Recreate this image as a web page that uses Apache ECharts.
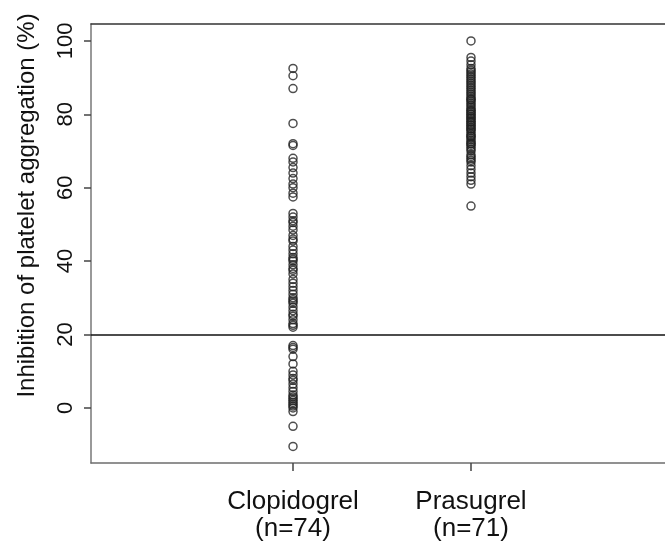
<!DOCTYPE html>
<html>
<head>
<meta charset="utf-8">
<script src="https://cdn.jsdelivr.net/npm/echarts@6/dist/echarts.min.js"></script>
<style>
  html, body { margin: 0; padding: 0; background: #fff; }
  #chart { width: 665px; height: 545px; }
</style>
</head>
<body>
<div id="chart"></div>
<script>
// Groups shown along the x axis (placed at x = 1 and x = 2)
const categories = ['Clopidogrel\n(n=74)', 'Prasugrel\n(n=71)'];

// Inhibition of platelet aggregation (%) per patient
const clopidogrel = [
  92.5, 90.5, 87, 77.5, 72, 71.5, 68, 67, 65.5, 64, 62.5, 61, 60, 58.5, 57.5,
  53, 52, 51, 50.5, 49.5, 48.5, 47, 46, 45.5, 44, 43, 42, 41, 40.5, 40, 39, 38,
  37.5, 36.5, 35, 34, 33, 32, 31, 30, 29.5, 29, 28.5, 27.5, 26.5, 25.5, 25, 24,
  23, 22.5, 22,
  17, 16.5, 16, 14, 12, 10, 9, 8, 7.5, 6.5, 5.5, 4.5, 3.5, 3, 2.5, 2, 1.5, 1,
  0.5, 0, -1, -5, -10.5
];
const prasugrel = [
  100, 95.5, 94.5, 93.5, 92.5, 92, 91.5, 91, 90.5, 90, 89.5, 89, 88.5, 88,
  87.5, 87, 86.5, 86, 85.5, 85, 84.5, 84, 84, 83.5, 83, 82.5, 82, 81.5, 81, 81,
  80.5, 80, 80, 79.5, 79, 79, 78.5, 78, 78, 77.5, 77, 77, 76.5, 76, 76, 75.5,
  75, 74.5, 74, 74, 73.5, 73, 72.5, 72, 72, 71.5, 71, 70.5, 70, 69, 68.5, 68,
  67.5, 67, 66, 65, 64, 63, 62, 61, 55
];

// Axis ticks and the reference threshold
const yTicks = [0, 20, 40, 60, 80, 100];
const xTicks = [1, 2];
const threshold = 20;

const font = "'Liberation Sans', Arial, Helvetica, sans-serif";
const chart = echarts.init(document.getElementById('chart'), null, { renderer: 'canvas' });

const xMin = -0.135, xMax = 3.09;

const pointStyle = {
  symbol: 'circle',
  symbolSize: 8,
  itemStyle: { color: 'rgba(0,0,0,0)', borderColor: '#222', borderWidth: 1.5 }
};

chart.setOption({
  animation: false,
  backgroundColor: '#fff',
  grid: { left: 91, top: 24, right: 0, bottom: 82, show: false },
  xAxis: [{
    type: 'value',
    min: xMin,
    max: xMax,
    splitLine: { show: false },
    axisLine: { show: true, onZero: false, lineStyle: { color: '#6e6e6e', width: 1.5 } },
    axisTick: { show: true, customValues: xTicks, length: 8, lineStyle: { color: '#444', width: 1.5 } },
    axisLabel: {
      customValues: xTicks,
      formatter: v => categories[Math.round(v) - 1] || '',
      margin: 25,
      fontFamily: font,
      fontSize: 26,
      lineHeight: 27,
      color: '#111'
    }
  }, {
    // top edge of the plot box
    type: 'value',
    position: 'top',
    min: xMin,
    max: xMax,
    splitLine: { show: false },
    axisLine: { show: true, onZero: false, lineStyle: { color: '#333', width: 1.5 } },
    axisTick: { show: false },
    axisLabel: { show: false }
  }],
  yAxis: {
    type: 'value',
    min: -15,
    max: 104.6,
    splitLine: { show: false },
    axisLine: { show: true, onZero: false, lineStyle: { color: '#777', width: 1.5 } },
    axisTick: { show: true, customValues: yTicks, length: 7, lineStyle: { color: '#444', width: 1.5 } },
    axisLabel: {
      customValues: yTicks,
      rotate: 90,
      margin: 14,
      fontFamily: font,
      fontSize: 22,
      color: '#111'
    },
    name: 'Inhibition of platelet aggregation (%)',
    nameLocation: 'middle',
    nameRotate: 90,
    nameGap: 52,
    nameTextStyle: {
      fontFamily: font,
      fontSize: 24,
      color: '#111',
      padding: [0, 0, 0, 76]
    }
  },
  series: [
    Object.assign({
      type: 'scatter',
      xAxisIndex: 0,
      data: clopidogrel.map(v => [xTicks[0], v]),
      markLine: {
        silent: true,
        symbol: 'none',
        label: { show: false },
        lineStyle: { color: '#111', width: 1.5, type: 'solid' },
        data: [{ yAxis: threshold }]
      }
    }, pointStyle),
    Object.assign({
      type: 'scatter',
      xAxisIndex: 0,
      data: prasugrel.map(v => [xTicks[1], v])
    }, pointStyle)
  ]
});
</script>
</body>
</html>
